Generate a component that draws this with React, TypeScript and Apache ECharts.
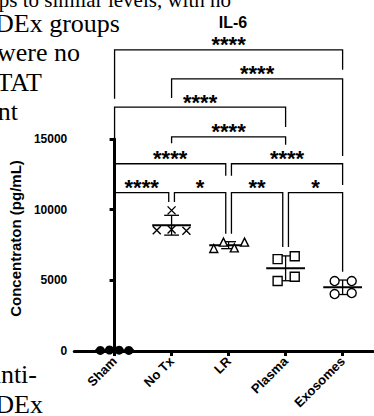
import React, { useEffect, useRef } from 'react';
import * as echarts from 'echarts';

const groups = ['Sham', 'No Tx', 'LR', 'Plasma', 'Exosomes'];
const shamValues = [40, 70, 60, 40];
const noTxValues = [9950, 8550, 8600, 8500];
const lrValues = [7250, 7700, 7300, 7700];
const plasmaValues = [6500, 6700, 4950, 5250];
const exosomeValues = [4950, 4950, 4030, 4100];
const groupValues = [shamValues, noTxValues, lrValues, plasmaValues, exosomeValues];
const jitter = [
  [-0.25, -0.09, 0.08, 0.25],
  [0, -0.26, 0, 0.26],
  [-0.26, -0.09, 0.1, 0.28],
  [-0.14, 0.16, -0.14, 0.16],
  [-0.14, 0.16, -0.14, 0.16],
];
const yTicks = [0, 5000, 10000, 15000];

// significance brackets: [fromGroup, fromShift, toGroup, toShift, barLevel, leftLegEnd, rightLegEnd]
const brackets = [
  [0, 0, 4, 0, 21300, 17850, 19900],
  [1, 0, 4, 0, 19250, 17900, 13800],
  [0, 0, 3, 0, 17250, 13800, 15850],
  [1, 0, 3, 0, 15150, 14700, 14600],
  [0, 0, 2, -0.05, 13250, 11750, 12400],
  [2, 0.05, 4, 0, 13250, 12400, 11750],
  [0, 0, 1, -0.05, 11200, 70, 10550],
  [1, 0.05, 2, -0.05, 11200, 10550, 8300],
  [2, 0.05, 3, -0.05, 11200, 8300, 7350],
  [3, 0.05, 4, 0, 11200, 7350, 5600],
];
const bracketLabels = ['****', '****', '****', '****', '****', '****', '****', '*', '**', '*'];

const pageText = [
  { text: 'groups to similar levels, with no', right: 231, baseline: 7, size: 21 },
  { text: 'PDEx groups', right: 120, baseline: 32, size: 26 },
  { text: 'There were no', right: 80, baseline: 61, size: 26 },
  { text: 'STAT', right: 42, baseline: 91, size: 26 },
  { text: 'ment', right: 18, baseline: 120, size: 26 },
  { text: 'anti-', right: 37, baseline: 383, size: 26 },
  { text: 'PDEx', right: 43, baseline: 413, size: 26 },
];

const SANS = '"Liberation Sans", Arial, sans-serif';

function mean(a: number[]) {
  return a.reduce((s, v) => s + v, 0) / a.length;
}
function sd(a: number[]) {
  const m = mean(a);
  return Math.sqrt(a.reduce((s, v) => s + (v - m) * (v - m), 0) / (a.length - 1));
}

const symbols = [
  { symbol: 'circle', size: 9, fill: '#000' },
  { symbol: 'path://M0,0L10,10M10,0L0,10', size: 8, fill: 'none' },
  { symbol: 'triangle', size: 8, fill: '#fff' },
  { symbol: 'rect', size: 9, fill: '#fff' },
  { symbol: 'circle', size: 9, fill: '#fff' },
];

export default function App() {
  const ref = useRef<HTMLDivElement>(null);
  useEffect(() => {
    if (!ref.current) return;
    const chart = echarts.init(ref.current, undefined, { renderer: 'svg' });

    const scatterSeries = groupValues.map((vals, gi) => ({
      type: 'scatter',
      name: groups[gi],
      data: vals.map((v, i) => [gi + jitter[gi][i], v]),
      symbol: symbols[gi].symbol,
      symbolSize: symbols[gi].size,
      itemStyle: {
        color: symbols[gi].fill,
        borderColor: '#000',
        borderWidth: gi === 0 ? 0 : 1.4,
        opacity: 1,
      },
      z: 4,
      silent: true,
    }));

    const option: any = {
      animation: false,
      backgroundColor: '#fff',
      title: {
        text: 'IL-6',
        left: 228,
        top: 9,
        textAlign: 'center',
        textStyle: { fontFamily: SANS, fontWeight: 'bold', fontSize: 16, color: '#000' },
      },
      grid: { left: 73, right: 1, top: 139, bottom: 65 },
      xAxis: {
        type: 'value',
        min: -0.707,
        max: 4.533,
        axisLine: { show: true, onZero: true, lineStyle: { color: '#000', width: 3 } },
        axisTick: { show: true, customValues: [0, 1, 2, 3, 4], length: 5, lineStyle: { color: '#000', width: 3 } },
        axisLabel: {
          customValues: [0, 1, 2, 3, 4],
          formatter: (v: number) => groups[Math.round(v)],
          rotate: 45,
          margin: 8,
          color: '#000',
          fontFamily: SANS,
          fontWeight: 'bold',
          fontSize: 13,
        },
        splitLine: { show: false },
      },
      yAxis: {
        type: 'value',
        min: 0,
        max: 15000,
        interval: 5000,
        name: 'Concentraton (pg/mL)',
        nameLocation: 'middle',
        nameGap: 49,
        nameTextStyle: { fontFamily: SANS, fontWeight: 'bold', fontSize: 15, color: '#000', padding: [0, 0, 0, 13] },
        axisLine: { show: true, lineStyle: { color: '#000', width: 3 } },
        axisTick: { show: true, length: 5, lineStyle: { color: '#000', width: 3 } },
        axisLabel: {
          margin: 7,
          color: '#000',
          fontFamily: SANS,
          fontWeight: 'bold',
          fontSize: 12,
          formatter: (v: number) => (yTicks.includes(v) ? String(v) : ''),
        },
        splitLine: { show: false },
      },
      graphic: pageText.map((t) => ({
        type: 'text',
        x: t.right,
        y: t.baseline - 0.3375 * t.size,
        silent: true,
        style: {
          text: t.text,
          align: 'right',
          verticalAlign: 'middle',
          font: `${t.size}px "Liberation Serif", "Times New Roman", serif`,
          fill: '#000',
        },
      })),
      series: [
        {
          type: 'custom',
          coordinateSystem: 'cartesian2d',
          clip: false,
          silent: true,
          z: 3,
          data: groupValues.map((vals, gi) => [gi, mean(vals), sd(vals)]),
          renderItem: (params: any, api: any) => {
            const x = api.value(0);
            const m = api.value(1);
            const s = api.value(2);
            const mid = api.coord([x, m]);
            const top = api.coord([x, m + s]);
            const bot = api.coord([x, m - s]);
            const hw = api.size([0.34, 0])[0];
            const cw = api.size([0.13, 0])[0];
            const st = { stroke: '#000', lineWidth: 1.3 };
            return {
              type: 'group',
              children: [
                { type: 'line', shape: { x1: mid[0] - hw, y1: mid[1], x2: mid[0] + hw, y2: mid[1] }, style: { stroke: '#000', lineWidth: 2 } },
                { type: 'line', shape: { x1: top[0], y1: top[1], x2: bot[0], y2: bot[1] }, style: st },
                { type: 'line', shape: { x1: top[0] - cw, y1: top[1], x2: top[0] + cw, y2: top[1] }, style: st },
                { type: 'line', shape: { x1: bot[0] - cw, y1: bot[1], x2: bot[0] + cw, y2: bot[1] }, style: st },
              ],
            };
          },
        },
        ...scatterSeries,
        {
          type: 'custom',
          coordinateSystem: 'cartesian2d',
          clip: false,
          silent: true,
          z: 5,
          data: brackets.map((b) => [b[0] + b[1], b[2] + b[3], b[4], b[5], b[6]]),
          renderItem: (params: any, api: any) => {
            const x1 = api.value(0);
            const x2 = api.value(1);
            const lv = api.value(2);
            const a = api.coord([x1, api.value(3)]);
            const b = api.coord([x1, lv]);
            const c = api.coord([x2, lv]);
            const d = api.coord([x2, api.value(4)]);
            return {
              type: 'group',
              children: [
                {
                  type: 'polyline',
                  shape: { points: [a, b, c, d] },
                  style: { stroke: '#000', fill: null, lineWidth: 1.3 },
                },
                {
                  type: 'text',
                  x: (b[0] + c[0]) / 2,
                  y: b[1] - 5,
                  style: {
                    text: bracketLabels[params.dataIndex],
                    align: 'center',
                    verticalAlign: 'middle',
                    font: `bold 22px ${SANS}`,
                    fill: '#000',
                  },
                },
              ],
            };
          },
        },
      ],
    };
    chart.setOption(option);
    return () => chart.dispose();
  }, []);

  return (
    <div
      ref={ref}
      style={{ position: 'fixed', left: 0, top: 0, width: 374, height: 416, background: '#fff' }}
    />
  );
}
